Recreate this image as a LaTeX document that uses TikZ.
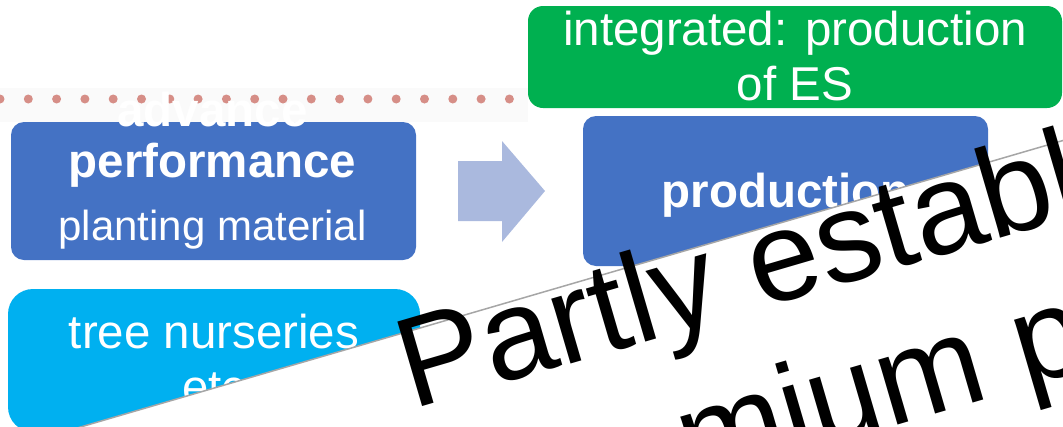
\documentclass[tikz,border=0pt]{standalone}
\usepackage{fontspec}
\setmainfont{Liberation Sans}
\usetikzlibrary{positioning}

\definecolor{boxblue}{HTML}{4472C4}
\definecolor{boxgreen}{HTML}{00B050}
\definecolor{boxcyan}{HTML}{00B0F0}
\definecolor{arrowblue}{HTML}{AAB9DE}
\definecolor{dotred}{HTML}{D68E87}
\definecolor{panelline}{HTML}{A6A6A6}

\begin{document}
\begin{tikzpicture}[x=1pt, y=-1pt]
% STYLES
\tikzset{%
    box/.style={%
        rectangle,
        rounded corners=13pt,
        inner sep=0pt,
        minimum width=405pt
                },
    boxtext/.style={%
        text=white,
        align=center,
        inner sep=0pt,
        anchor=base,
        font=\fontsize{47.5}{55}\selectfont
                },
    bigtext/.style={%
        anchor=base west,
        inner sep=0pt,
        rotate=16.3,
        font=\fontsize{128}{150}\selectfont
                }
             }
\useasboundingbox (0,0) rectangle (1063,426);
\clip (0,0) rectangle (1063,426);

% Dotted band
\fill[black!2] (0,88) rectangle (528,122);
\foreach \i in {0,...,18}
    \fill[dotred] (\i*28.3,99) circle (4.5);

% Draw boxes
\node [box, fill=boxgreen, rounded corners=15pt, minimum width=534pt, minimum height=102pt] (esbox) at (795,57) {};
\node [box, fill=boxblue, minimum height=138pt] (advbox) at (213.5,191) {};
\node [box, fill=boxblue, minimum height=150pt] (prodbox) at (785.5,191) {};
\node [box, fill=boxcyan, rounded corners=25pt, minimum width=412pt, minimum height=143pt] (nurserybox) at (214,360.5) {};

% Texts of the boxes
\node [boxtext] (estext) at (esbox.center |- 0,100) {integrated: production\\of ES};
\node [boxtext, font=\fontsize{47.5}{51}\selectfont] (advtext) at (212.5,240)
    {\textbf{advance}\\\textbf{performance}\\[12pt]{\fontsize{42}{50}\selectfont planting material}};
\node [boxtext] (prodtext) at (prodbox.center |- 0,207) {\textbf{production}};
\node [boxtext] (nurserytext) at (nurserybox.center |- 0,403) {tree nurseries\\etc};

% Arrow between the boxes
\fill[arrowblue] (458,161) -- (502,161) -- (502,141) -- (545,191)
    -- (502,242) -- (502,221) -- (458,221) -- cycle;

% Tilted panel
\coordinate (edgeL) at (60,433);
\coordinate (edgeR) at (1075,137);
\fill[white] (edgeL) -- (edgeR) -- (1075,500) -- (60,500) -- cycle;
\draw[panelline, line width=1.5pt] (edgeL) -- (edgeR);
\node [bigtext] (partly) at (412,410) {Partly establ};
\node [bigtext] (premium) at (691,485) {mium p};
\end{tikzpicture}
\end{document}
